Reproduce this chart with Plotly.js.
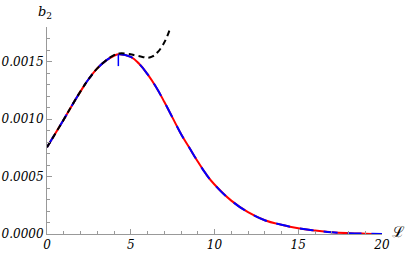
<!DOCTYPE html>
<html>
<head>
<meta charset="utf-8">
<script src="https://cdn.plot.ly/plotly-3.0.1.min.js"></script>
<style>html,body{margin:0;padding:0;background:#fff;}#chart{width:407px;height:260px;}</style>
</head>
<body>
<div id="chart"></div>
<script>
// Exact curve b2(L)
var xMain = [0, 1, 1.5, 2, 2.5, 3, 3.5, 4, 4.3, 5, 5.5, 6, 6.5, 7, 7.5, 8, 8.5, 9, 9.5, 10, 11, 12, 13, 14, 15, 16, 17, 18, 19, 20];
var yMain = [0.000755, 0.000995, 0.00112, 0.00124, 0.00135, 0.00144, 0.001505, 0.00155, 0.001563, 0.00154, 0.00148, 0.00139, 0.00128, 0.00115, 0.00101, 0.00087, 0.00075, 0.00063, 0.00052, 0.00043, 0.00029, 0.00019, 0.00012, 0.00008, 0.00005, 0.00003, 0.000015, 0.000007, 0.000003, 0.000001];
// Approximation (black dashed)
var xApprox = [0, 1, 1.5, 2, 2.5, 3, 3.5, 4, 4.3, 4.8, 5.3, 5.7, 6.0, 6.3, 6.6, 6.9, 7.15, 7.4];
var yApprox = [0.000755, 0.000995, 0.00112, 0.00124, 0.00135, 0.00144, 0.001507, 0.001555, 0.00157, 0.001567, 0.001552, 0.00154, 0.001533, 0.001545, 0.00158, 0.00164, 0.00171, 0.00181];
// small blue spike
var xSpike = [4.26, 4.26];
var ySpike = [0.001563, 0.00146];
// ticks
var xTickVals = [0, 5, 10, 15, 20];
var xTickText = ["0", "5", "10", "15", "20"];
var yTickVals = [0, 0.0005, 0.001, 0.0015];
var yTickText = ["0.0000", "0.0005", "0.0010", "0.0015"];

function ital(a) { return a.map(function (s) { return "<i>" + s + "</i>"; }); }
var tickFont = {family: "DejaVu Serif", size: 12, color: "#000"};
var traces = [
  {x: xMain, y: yMain, mode: "lines", line: {color: "#ff0000", width: 2, shape: "spline", smoothing: 1.2}, hoverinfo: "skip"},
  {x: xMain, y: yMain, mode: "lines", line: {color: "#0000ff", width: 2, shape: "spline", smoothing: 1.2, dash: "14px,10px"}, hoverinfo: "skip"},
  {x: xSpike, y: ySpike, mode: "lines", line: {color: "#0000ff", width: 1.5}, hoverinfo: "skip"},
  {x: xApprox, y: yApprox, mode: "lines", line: {color: "#000000", width: 2, shape: "spline", smoothing: 1.2, dash: "6px,4px"}, hoverinfo: "skip"}
];
var layout = {
  width: 407, height: 260,
  margin: {l: 47, r: 25, t: 27, b: 26},
  showlegend: false,
  font: {family: "DejaVu Serif"},
  paper_bgcolor: "#fff", plot_bgcolor: "#fff",
  xaxis: {
    range: [0, 20], showgrid: false, zeroline: false,
    showline: true, linecolor: "#999", linewidth: 1,
    ticks: "inside", ticklen: 5, tickcolor: "#999", tickwidth: 1,
    tickvals: xTickVals, ticktext: ital(xTickText), tickfont: tickFont,
    minor: {dtick: 1, ticks: "inside", ticklen: 3, tickcolor: "#999", showgrid: false}
  },
  yaxis: {
    range: [0, 0.0018], showgrid: false, zeroline: false,
    showline: true, linecolor: "#999", linewidth: 1,
    ticks: "inside", ticklen: 5, tickcolor: "#999", tickwidth: 1,
    tickvals: yTickVals, ticktext: ital(yTickText), tickfont: tickFont,
    minor: {dtick: 0.0001, ticks: "inside", ticklen: 3, tickcolor: "#999", showgrid: false}
  },
  annotations: [
    {xref: "paper", yref: "paper", x: -0.006, y: 1.072, xanchor: "center", yanchor: "middle",
     text: "<i>b</i><sub>2</sub>", showarrow: false, font: {family: "DejaVu Serif", size: 13, color: "#000"}},
    {xref: "paper", yref: "paper", x: 1.048, y: 0.01, xanchor: "center", yanchor: "middle",
     text: "ℒ", showarrow: false, font: {family: "DejaVu Serif", size: 15, color: "#000"}}
  ]
};
Plotly.newPlot("chart", traces, layout, {staticPlot: true, displayModeBar: false});
</script>
</body>
</html>
